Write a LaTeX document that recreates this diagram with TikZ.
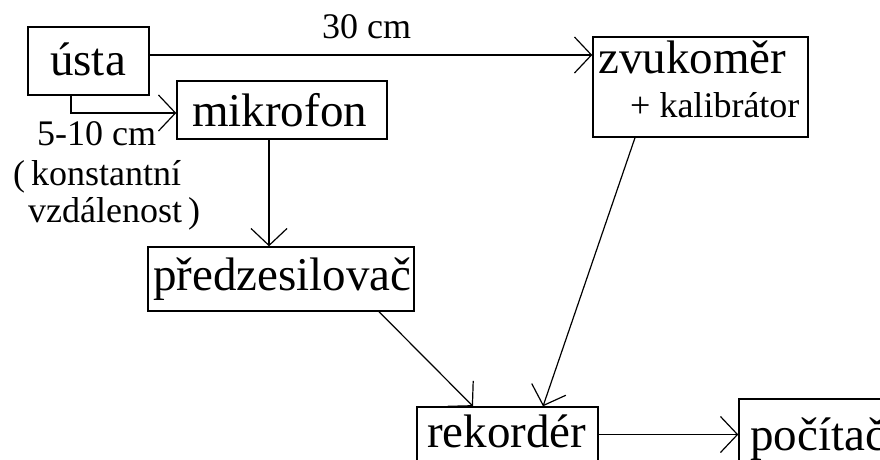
\documentclass[tikz,border=0pt]{standalone}
\usepackage{fontspec}
\setmainfont{Liberation Serif}
\usetikzlibrary{arrows.meta,calc}
\tikzset{
  box/.style={draw=black,line width=1.4pt,rectangle,inner sep=0pt,fill=white},
  big/.style={inner sep=0pt,anchor=base west,font=\fontsize{47}{50}\selectfont},
  small/.style={inner sep=0pt,anchor=base west,font=\fontsize{36}{40}\selectfont},
  arr/.style={line width=1.2pt,-{Straight Barb[length=17pt,width=36pt,line width=1.2pt]}},
}
\begin{document}
\begin{tikzpicture}[x=1pt,y=-1pt]
\useasboundingbox (0,0) rectangle (880,459);
\fill[white] (0,0) rectangle (880,459);
\clip (0,0) rectangle (880,459);
% boxes
\node[box,minimum width=121pt,minimum height=68pt] (usta) at (88.5,61) {};
\node[box,minimum width=210pt,minimum height=58pt] (mikrofon) at (282,110) {};
\node[box,minimum width=215pt,minimum height=100pt] (zvuk) at (700.5,87) {};
\node[box,minimum width=266pt,minimum height=64pt] (predz) at (281,279) {};
\node[box,minimum width=181pt,minimum height=66pt] (rekorder) at (507.5,440) {};
\node[box,minimum width=240pt,minimum height=72pt] (pocitac) at (859,435) {};
% texts
\node[big] (tusta) at (50,75) {ústa};
\node[big] (tmikro) at (192,126) {mikrofon};
\node[big] (tzvuk) at (598,73) {zvukoměr};
\node[small] (tkal) at (630,117) {+ kalibrátor};
\node[big] (tpredz) at (153,290) {předzesilovač};
\node[big] (trek) at (427,447) {rekordér};
\node[big] (tpoc) at (750,450) {počítač};
\node[small] (l30) at (322,38) {30 cm};
\node[small] (l510) at (37,145) {5-10 cm};
\node[small] (lkon) at (13,185) {(\,konstantní};
\node[small] (lvzd) at (28,222) {vzdálenost\,)};
% connectors
\coordinate (a1) at ([yshift=6pt]usta.east);
\draw[arr] (a1) -- (a1 -| zvuk.west);
\coordinate (a2) at ([xshift=-17.5pt]usta.south);
\coordinate (a3) at ([yshift=-3pt]mikrofon.west);
\draw[arr] (a2) |- (a3);
\coordinate (a4) at ([xshift=-13pt]mikrofon.south);
\draw[arr] (a4) -- (a4 |- predz.north);
\draw[arr] ([xshift=98pt]predz.south) -- ([xshift=-34.5pt]rekorder.north);
\draw[arr] ([xshift=-65.5pt]zvuk.south) -- ([xshift=35.5pt]rekorder.north);
\coordinate (a5) at ([yshift=5.5pt]rekorder.east);
\draw[arr] (a5) -- (a5 -| pocitac.west);
\end{tikzpicture}
\end{document}
